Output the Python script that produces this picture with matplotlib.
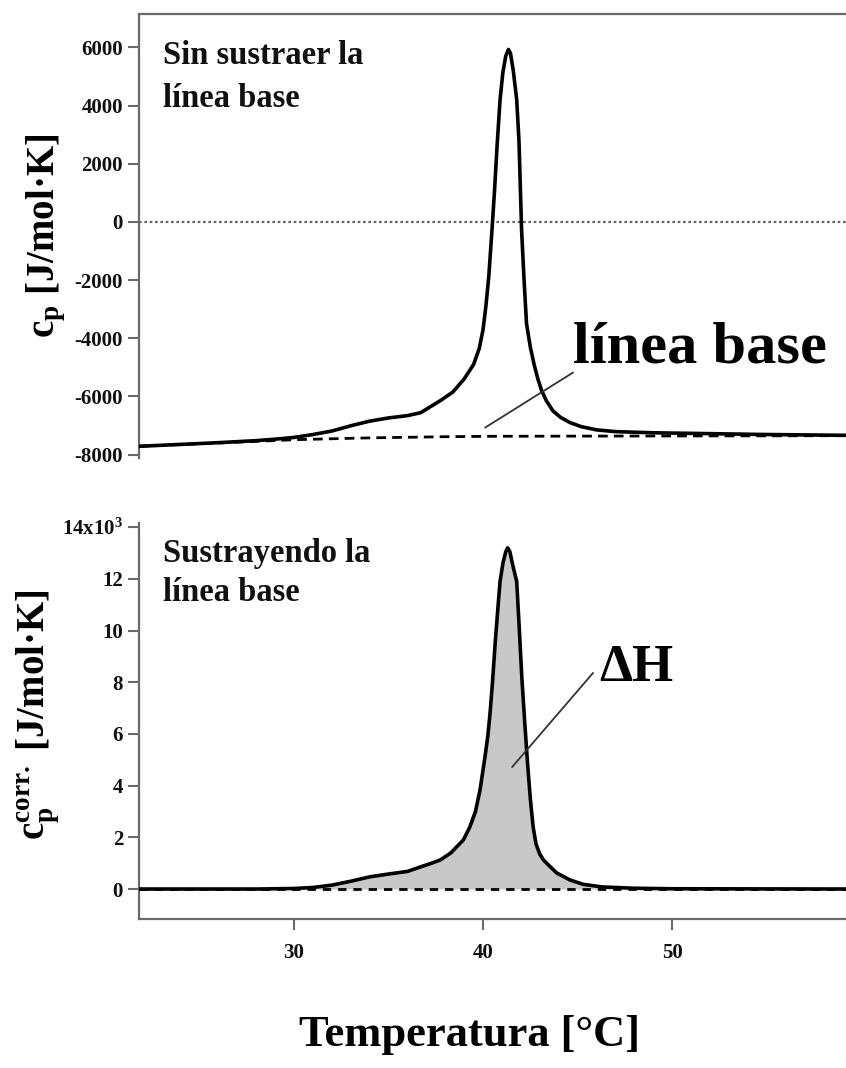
import matplotlib
matplotlib.use("Agg")
import matplotlib.pyplot as plt

# ---------------- data ----------------
# Upper panel: raw heat capacity (J/mol K) vs temperature (°C)
T_raw = [21.8, 24.0, 26.0, 28.0, 29.0, 30.0, 31.0, 32.0, 33.0, 34.0, 35.0, 36.0,
         36.7, 37.2, 37.8, 38.4, 39.0, 39.5, 39.8, 40.0, 40.15, 40.3, 40.46,
         40.6, 40.75, 40.9, 41.05, 41.2, 41.34, 41.45, 41.6, 41.78, 41.9, 42.04,
         42.17, 42.3, 42.5, 42.7, 42.9, 43.1, 43.35, 43.7, 44.1, 44.6, 45.2,
         46.0, 47.0, 49.0, 52.0, 55.0, 59.2]
cp_raw = [-7715, -7650, -7590, -7520, -7470, -7410, -7310, -7190, -7010, -6850,
          -6740, -6660, -6560, -6360, -6120, -5850, -5400, -4900, -4350, -3700,
          -2900, -1900, -400, 1000, 2700, 4200, 5150, 5700, 5930, 5800, 5200,
          4200, 2800, -300, -2000, -3500, -4300, -4900, -5400, -5800, -6150,
          -6500, -6720, -6900, -7040, -7150, -7210, -7250, -7280, -7310, -7337]

# Upper panel: baseline (dashed)
T_base = [21.8, 26.0, 30.15, 34.0, 38.0, 40.4, 45.0, 50.0, 55.0, 59.2]
cp_base = [-7715, -7600, -7485, -7425, -7385, -7371, -7365, -7360, -7355, -7350]

# Lower panel: baseline-corrected heat capacity (x10^3 J/mol K)
T_corr = [21.8, 25.0, 28.0, 30.0, 31.0, 32.0, 33.0, 34.0, 35.0, 36.0, 36.67,
          37.2, 37.73, 38.3, 38.96, 39.3, 39.6, 39.84, 40.1, 40.25, 40.37,
          40.5, 40.65, 40.8, 40.9, 41.05, 41.2, 41.3, 41.42, 41.55, 41.68,
          41.78, 41.9, 42.05, 42.2, 42.35, 42.5, 42.65, 42.8, 43.0, 43.2, 43.5,
          43.9, 44.6, 45.3, 46.3, 48.0, 50.0, 59.2]
cp_corr = [0.0, 0.0, 0.0, 0.02, 0.06, 0.15, 0.30, 0.47, 0.58, 0.68, 0.85,
           0.98, 1.12, 1.40, 1.90, 2.40, 3.00, 3.83, 5.10, 5.90, 6.80,
           8.00, 9.60, 11.0, 11.9, 12.6, 13.05, 13.2, 13.05, 12.6, 12.2,
           11.9, 10.3, 8.2, 6.5, 4.9, 3.5, 2.4, 1.75, 1.35, 1.12, 0.90,
           0.62, 0.35, 0.18, 0.08, 0.03, 0.01, 0.0]

# Tick values / labels
yticks_top = [-8000, -6000, -4000, -2000, 0, 2000, 4000, 6000]
yticks_bot = [0, 2, 4, 6, 8, 10, 12, 14]
yticklabels_bot = ['0', '2', '4', '6', '8', '10', '12', r'14x10$^{\mathrm{3}}$']
xticks = [30, 40, 50]

# ---------------- style ----------------
SERIF = ['Liberation Serif', 'DejaVu Serif']
plt.rcParams['font.family'] = SERIF
plt.rcParams['font.weight'] = 'bold'
plt.rcParams['mathtext.fontset'] = 'custom'
plt.rcParams['mathtext.rm'] = 'Liberation Serif:bold'
plt.rcParams['mathtext.it'] = 'Liberation Serif:bold'
plt.rcParams['mathtext.bf'] = 'Liberation Serif:bold'

SPINE = '#6a6a6a'
TICKFS = 15

fig = plt.figure(figsize=(8.46, 10.68), dpi=100)
W, H = 846.0, 1068.0
ax1 = fig.add_axes([139 / W, 1 - 457.5 / H, 707 / W, 443.5 / H])
ax2 = fig.add_axes([139 / W, 1 - 919 / H, 707 / W, 396 / H])

for ax in (ax1, ax2):
    ax.set_xlim(21.8, 59.2)
    for s in ax.spines.values():
        s.set_color(SPINE)
        s.set_linewidth(1.6)
    ax.spines['right'].set_visible(False)
    ax.tick_params(direction='out', length=8, width=1.5, color=SPINE,
                   labelsize=TICKFS, labelcolor='#111111')

# ---- upper panel ----
ax1.spines['bottom'].set_visible(False)
ax1.set_ylim(-8100, 7150)
ax1.set_yticks(yticks_top)
ax1.set_yticklabels([str(v) for v in yticks_top], fontweight='bold')
ax1.set_xticks([])
ax1.axhline(0, color='#666666', ls=(0, (1.2, 1.2)), lw=1.6, zorder=1)
ax1.plot(T_base, cp_base, color='black', lw=2.0, ls=(0, (3.5, 2.2)), zorder=2)
ax1.plot(T_raw, cp_raw, color='black', lw=2.6, solid_joinstyle='round', zorder=3)
ax1.set_ylabel(r'$\mathrm{c_p}$ [J/mol·K]', fontsize=28, fontweight='bold')
ax1.yaxis.set_label_coords(-0.10, 0.5)

ax1.text(0.034, (457.5 - 64) / 443.5, 'Sin sustraer la', transform=ax1.transAxes,
         fontsize=23.5, fontweight='bold', ha='left', va='baseline', color='#111111')
ax1.text(0.034, (457.5 - 107) / 443.5, 'línea base', transform=ax1.transAxes,
         fontsize=23.5, fontweight='bold', ha='left', va='baseline', color='#111111')

ax1.annotate('', xy=(40.11, -7072), xytext=(44.76, -5179),
             arrowprops=dict(arrowstyle='-', color='#333333', lw=1.3,
                             shrinkA=0, shrinkB=0))
ax1.text(44.76, -4838, 'línea base', fontsize=43.5, fontweight='bold',
         ha='left', va='baseline', color='black')

# ---- lower panel ----
ax2.spines['top'].set_visible(False)
ax2.set_ylim(-1.16, 14.16)
ax2.set_yticks(yticks_bot)
ax2.set_yticklabels(yticklabels_bot, fontweight='bold')
ax2.set_xticks(xticks)
ax2.set_xticklabels([str(v) for v in xticks], fontweight='bold')
ax2.tick_params(axis='x', pad=9)
ax2.fill_between(T_corr, 0, cp_corr, color='#c8c8c8', lw=0, zorder=1)
ax2.axhline(0, color='black', ls=(0, (3, 2.5)), lw=2.0, zorder=2)
ax2.plot(T_corr, cp_corr, color='black', lw=2.6, solid_joinstyle='round', zorder=3)
ax2.set_ylabel(r'$\mathrm{c_p^{corr.}}$ [J/mol·K]', fontsize=28, fontweight='bold')
ax2.yaxis.set_label_coords(-0.109, 0.515)
ax2.set_xlabel('Temperatura [°C]', fontsize=32, fontweight='bold')
ax2.xaxis.set_label_coords(0.467, -0.243)

ax2.text(0.034, (919 - 562) / 396, 'Sustrayendo la', transform=ax2.transAxes,
         fontsize=23.5, fontweight='bold', ha='left', va='baseline', color='#111111')
ax2.text(0.034, (919 - 601) / 396, 'línea base', transform=ax2.transAxes,
         fontsize=23.5, fontweight='bold', ha='left', va='baseline', color='#111111')

ax2.annotate('', xy=(41.54, 4.72), xytext=(45.82, 8.36),
             arrowprops=dict(arrowstyle='-', color='#333333', lw=1.3,
                             shrinkA=0, shrinkB=0))
ax2.text(46.15, 8.05, 'ΔH', fontsize=38, fontweight='bold',
         ha='left', va='baseline', color='black')

fig.savefig('out.png', dpi=100, facecolor='white')
